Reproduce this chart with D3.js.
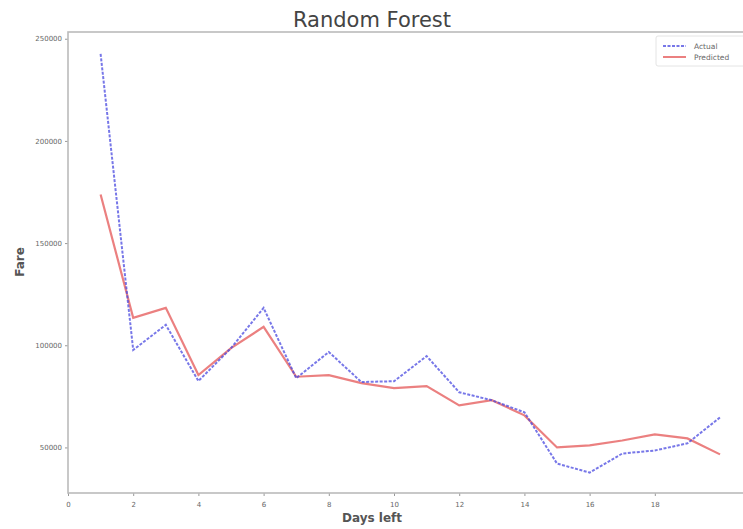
<!DOCTYPE html>
<html><head><meta charset="utf-8">
<script src="https://cdn.jsdelivr.net/npm/d3@7"></script>
<style>body{margin:0;background:#fff}svg{display:block}</style>
</head><body>
<svg id="chart" width="743" height="529"></svg>
<script>
const days = [1,2,3,4,5,6,7,8,9,10,11,12,13,14,15,16,17,18,19,20];
const actual = [242600,97700,110000,82500,98600,118300,83900,96700,82000,82400,94700,77000,73100,67200,42100,37700,47000,48500,52000,64700];
const predicted = [173800,113400,118300,85400,98600,109000,84600,85400,81500,79000,80000,70600,73100,65700,50000,51000,53400,56400,54400,46600];
const xTicks = [0,2,4,6,8,10,12,14,16,18];
const yTicks = [50000,100000,150000,200000,250000];
const seriesNames = ["Actual","Predicted"];

(function(){
const svg = d3.select("#chart");
const pL = 68, pR = 751, pT = 32, pB = 493;
const x = d3.scaleLinear().domain([0, 20.95]).range([pL, pR]);
const y = d3.scaleLinear().domain([27700, 253300]).range([pB, pT]);

svg.append("text").attr("x", 372).attr("y", 27).attr("text-anchor","middle")
  .attr("font-family","DejaVu Sans").attr("font-size",21).attr("fill","#444").text("Random Forest");

const gx = svg.append("g").attr("transform",`translate(0,${pB})`)
  .call(d3.axisBottom(x).tickValues(xTicks).tickSize(3).tickPadding(6));
const gy = svg.append("g").attr("transform",`translate(${pL},0)`)
  .call(d3.axisLeft(y).tickValues(yTicks).tickSize(3).tickPadding(3).tickFormat(d3.format("d")));
[gx,gy].forEach(g=>{
  g.select(".domain").remove();
  g.selectAll("line").attr("stroke","#999");
  g.selectAll("text").attr("font-family","DejaVu Sans").attr("font-size",7).attr("fill","#666");
});

svg.append("rect").attr("x",pL).attr("y",pT).attr("width",pR-pL).attr("height",pB-pT)
  .attr("fill","none").attr("stroke","#bbb").attr("stroke-width",1.6);

svg.append("text").attr("x",372).attr("y",522).attr("text-anchor","middle")
  .attr("font-family","DejaVu Sans").attr("font-size",12).attr("font-weight","bold").attr("fill","#555").text("Days left");
svg.append("text").attr("transform","translate(24,262) rotate(-90)").attr("text-anchor","middle")
  .attr("font-family","DejaVu Sans").attr("font-size",12).attr("font-weight","bold").attr("fill","#555").text("Fare");

const line = d3.line().x((d,i)=>x(days[i])).y(d=>y(d));
svg.append("path").datum(predicted).attr("d",line).attr("fill","none")
  .attr("stroke","#e86a6a").attr("stroke-opacity",0.85).attr("stroke-width",2.2);
svg.append("path").datum(actual).attr("d",line).attr("fill","none")
  .attr("stroke","#4a4ae0").attr("stroke-opacity",0.75).attr("stroke-width",2)
  .attr("stroke-dasharray","3,1.5");

const lg = svg.append("g");
lg.append("rect").attr("x",656).attr("y",36).attr("width",95).attr("height",30)
  .attr("fill","#fff").attr("stroke","#e4e4e4").attr("rx",2);
const styles = [{c:"#4a4ae0",o:0.75,dash:"3,1.5"},{c:"#e86a6a",o:0.85,dash:null}];
seriesNames.forEach((n,i)=>{
  const yy = 46 + i*11;
  lg.append("line").attr("x1",663).attr("x2",686).attr("y1",yy).attr("y2",yy)
    .attr("stroke",styles[i].c).attr("stroke-opacity",styles[i].o).attr("stroke-width",2)
    .attr("stroke-dasharray",styles[i].dash);
  lg.append("text").attr("x",694).attr("y",yy+2.5).attr("font-family","DejaVu Sans")
    .attr("font-size",7.5).attr("fill","#666").text(n);
});
})();
</script>
</body></html>
